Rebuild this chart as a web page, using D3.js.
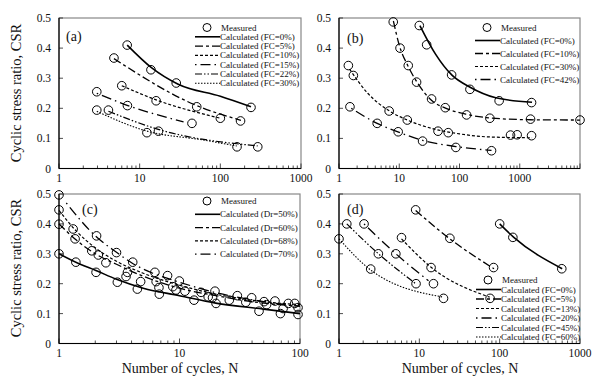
<!DOCTYPE html>
<html>
<head>
<meta charset="utf-8">
<script src="https://cdn.jsdelivr.net/npm/d3@7"></script>
<style>
  body { margin: 0; background: #fff; }
  text { font-family: "Liberation Serif", "DejaVu Serif", serif; fill: #111; }
</style>
</head>
<body>
<div id="viz"></div>
<script>
/***************** Data (N, CSR) *****************************************/
// panel (a)
var measA = [[7,0.41],[13.8,0.328],[28.4,0.284],[240,0.203],
             [4.8,0.367],[51,0.205],[178,0.158],
             [6,0.275],[16,0.225],[100,0.167],
             [2.94,0.255],[7.05,0.209],[44.5,0.15],
             [4.1,0.194],[17.1,0.124],[291,0.072],
             [2.94,0.194],[12.3,0.119],[161,0.072]];
var calcA_0  = [[7,0.41],[14,0.335],[30,0.28],[100,0.24],[240,0.205]];
var calcA_5  = [[4.8,0.365],[50,0.21],[180,0.16]];
var calcA_10 = [[6,0.275],[16,0.228],[100,0.167]];
var calcA_15 = [[2.94,0.25],[7,0.21],[35,0.155]];
var calcA_22 = [[4.1,0.19],[17,0.13],[290,0.075]];
var calcA_30 = [[2.94,0.19],[12,0.125],[60,0.095],[160,0.075]];
var labelsA = ["Calculated (FC=0%)","Calculated (FC=5%)","Calculated (FC=10%)",
               "Calculated (FC=15%)","Calculated (FC=22%)","Calculated (FC=30%)"];

// panel (b)
var measB = [[21.5,0.475],[28.5,0.411],[74,0.311],[149,0.263],[455,0.225],[1570,0.219],
             [7.95,0.487],[10.3,0.40],[14.1,0.342],[19.4,0.287],[34.4,0.231],[58,0.202],
             [131,0.178],[319,0.167],[1510,0.164],[10000,0.161],
             [1.43,0.342],[1.73,0.309],[6.8,0.191],[13.6,0.161],[44,0.124],[65,0.119],
             [703,0.111],[906,0.112],[1570,0.109],
             [1.52,0.205],[4.3,0.15],[9.6,0.122],[24.4,0.091],[87,0.07],[340,0.059]];
var calcB_0  = [[22,0.475],[40,0.38],[75,0.31],[150,0.27],[400,0.235],[1600,0.22]];
var calcB_10 = [[8,0.49],[10,0.41],[14,0.34],[20,0.285],[35,0.225],[60,0.2],[130,0.18],
                [320,0.168],[1500,0.162],[10000,0.161]];
var calcB_30 = [[1.5,0.33],[3,0.25],[7,0.19],[14,0.16],[40,0.13],[100,0.115],[300,0.105],[1600,0.102]];
var calcB_42 = [[1.6,0.2],[4.3,0.15],[10,0.12],[25,0.093],[87,0.073],[340,0.06]];
var labelsB = ["Calculated (FC=0%)","Calculated (FC=10%)","Calculated (FC=30%)","Calculated (FC=42%)"];

// panel (c)
var measC = [[1,0.497],[1,0.447],[1,0.399],[1,0.30],[1.31,0.383],[1.36,0.35],[1.38,0.272],
             [1.87,0.31],[2.05,0.36],[2.12,0.296],[2.03,0.238],[2.45,0.27],[3,0.304],
             [3.05,0.205],[3.6,0.224],[3.7,0.238],[4.09,0.272],[4.76,0.207],[4.47,0.182],
             [6.25,0.238],[6.4,0.207],[6.75,0.187],[6.8,0.165],[7.96,0.227],[8.8,0.19],
             [9.35,0.179],[9.97,0.209],[11.1,0.175],[13.2,0.145],[15.1,0.171],[17.3,0.156],
             [19.7,0.175],[20.1,0.134],[18.8,0.153],[25.9,0.145],[30.2,0.16],[35.5,0.138],
             [39.7,0.153],[45.7,0.108],[50.3,0.14],[52.8,0.13],[62,0.142],[68.8,0.1],
             [72.4,0.117],[80,0.134],[90.5,0.134],[96.3,0.12],[96.3,0.097]];
var calcC_50 = [[1,0.3],[1.5,0.265],[2,0.245],[3,0.215],[5,0.185],[10,0.16],[20,0.135],[50,0.115],[100,0.1]];
var calcC_60 = [[1,0.4],[1.4,0.345],[2,0.3],[3,0.265],[5,0.225],[10,0.185],[20,0.16],[50,0.135],[100,0.125]];
var calcC_68 = [[1,0.445],[1.4,0.375],[2,0.32],[3,0.275],[5,0.235],[10,0.195],[20,0.165],[50,0.14],[100,0.13]];
var calcC_70 = [[1.15,0.47],[2,0.36],[3,0.305],[4,0.27],[6,0.235],[10,0.205],[20,0.17],[50,0.14],[100,0.125]];
var labelsC = ["Calculated (Dr=50%)","Calculated (Dr=60%)","Calculated (Dr=68%)","Calculated (Dr=70%)"];

// panel (d)
var measD = [[100,0.4],[146,0.355],[593,0.25],
             [9,0.447],[24,0.352],[84,0.254],
             [6,0.354],[14,0.254],[76,0.151],
             [2.05,0.4],[5.1,0.3],[15,0.2],
             [1.25,0.4],[3.09,0.3],[9.1,0.2],
             [1,0.35],[2.48,0.249],[20,0.151]];
var calcD_0  = [[100,0.4],[150,0.355],[600,0.25]];
var calcD_5  = [[9,0.445],[24,0.35],[85,0.25]];
var calcD_13 = [[6,0.35],[14,0.255],[75,0.155]];
var calcD_20 = [[2.05,0.4],[5.1,0.3],[13,0.21]];
var calcD_45 = [[1.25,0.4],[3.1,0.3],[9,0.2]];
var calcD_60 = [[1,0.35],[2.5,0.245],[20,0.155]];
var labelsD = ["Calculated (FC=0%)","Calculated (FC=5%)","Calculated (FC=13%)",
               "Calculated (FC=20%)","Calculated (FC=45%)","Calculated (FC=60%)"];

var yTicks = [0, 0.1, 0.2, 0.3, 0.4, 0.5];

/***************** Line styles *********************/
var solid = {dash: null, w: 1.6},
    dashDot = {dash: "8,3,3,3", w: 1.3},
    shortDash = {dash: "3,2", w: 1.2},
    dotLong = {dash: "1.5,4,10,4", w: 1.3},
    dashDotDot = {dash: "7,2,1.5,2,1.5,2", w: 1.2},
    dotted = {dash: "1.5,1.5", w: 1.1};

var w = 606, h = 378;

var svg = d3.select("#viz")
        .append("svg")
        .attr("width", w)
        .attr("height", h);

var drawPanel = function(p) {
  var x = d3.scaleLog().domain(p.xd).range([p.x0, p.x1]);
  var y = d3.scaleLinear().domain([0, 0.5]).range([p.y1, p.y0]);
  var g = svg.append("g");

  /* frame */
  g.append("rect")
    .attr("x", p.x0).attr("y", p.y0)
    .attr("width", p.x1 - p.x0).attr("height", p.y1 - p.y0)
    .attr("fill", "none").attr("stroke", "#888").attr("stroke-width", 1.2);

  /* x ticks, inward */
  var minor = [];
  for (var e = Math.log10(p.xd[0]); e < Math.log10(p.xd[1]); e++) {
    for (var k = 1; k < 10; k++) minor.push(k * Math.pow(10, e));
  }
  minor.push(p.xd[1]);
  g.selectAll(".xt").data(minor).enter().append("line")
    .attr("x1", function(d) { return x(d); })
    .attr("x2", function(d) { return x(d); })
    .attr("y1", p.y1)
    .attr("y2", function(d) { return Math.abs(Math.log10(d) % 1) < 1e-6 ? p.y1 - 5 : p.y1 - 3; })
    .attr("stroke", "#222").attr("stroke-width", 0.8);
  g.selectAll(".xl").data(p.xlabels).enter().append("text")
    .attr("x", function(d) { return x(d); })
    .attr("y", p.y1 + 13.5)
    .attr("text-anchor", "middle")
    .style("font-size", "11.5px")
    .text(function(d) { return d; });

  /* y ticks */
  g.selectAll(".yt").data(yTicks).enter().append("line")
    .attr("x1", p.x0).attr("x2", p.x0 + 4)
    .attr("y1", function(d) { return y(d); })
    .attr("y2", function(d) { return y(d); })
    .attr("stroke", "#222").attr("stroke-width", 0.8);
  g.selectAll(".yl").data(yTicks).enter().append("text")
    .attr("x", p.x0 - 8)
    .attr("y", function(d) { return y(d) + 4; })
    .attr("text-anchor", "end")
    .style("font-size", "11.5px")
    .text(function(d) { return d === 0 ? "0" : d3.format(".1f")(d); });

  /* axes */
  g.append("line").attr("x1", p.x0).attr("x2", p.x1).attr("y1", p.y1).attr("y2", p.y1)
    .attr("stroke", "#000").attr("stroke-width", 1.2);
  g.append("line").attr("x1", p.x0).attr("x2", p.x0).attr("y1", p.y0).attr("y2", p.y1)
    .attr("stroke", "#000").attr("stroke-width", 1.2);

  /* calculated curves */
  var line = d3.line()
    .x(function(d) { return x(d[0]); })
    .y(function(d) { return y(d[1]); })
    .curve(d3.curveMonotoneX);
  p.calc.forEach(function(c) {
    g.append("path")
      .datum(c.data)
      .attr("d", line)
      .attr("fill", "none")
      .attr("stroke", "#000")
      .attr("stroke-width", c.style.w)
      .attr("stroke-dasharray", c.style.dash);
  });

  /* measured */
  g.selectAll(".m").data(p.meas).enter().append("circle")
    .attr("cx", function(d) { return x(d[0]); })
    .attr("cy", function(d) { return y(d[1]); })
    .attr("r", 4.3)
    .attr("fill", "none")
    .attr("stroke", "#000")
    .attr("stroke-width", 1);

  /* panel label */
  g.append("text")
    .attr("x", p.lab[0]).attr("y", p.lab[1])
    .style("font-size", "14px")
    .text(p.name);

  /* legend */
  var lg = p.legend;
  g.append("circle")
    .attr("cx", lg.x + 12).attr("cy", lg.y)
    .attr("r", 4).attr("fill", "none").attr("stroke", "#000");
  g.append("text")
    .attr("x", lg.x + 26).attr("y", lg.y + 3)
    .style("font-size", "9px")
    .text("Measured");
  p.calc.forEach(function(c, i) {
    var yy = lg.y + lg.dy * (i + 1);
    g.append("line")
      .attr("x1", lg.x).attr("x2", lg.x + 25)
      .attr("y1", yy).attr("y2", yy)
      .attr("stroke", "#000")
      .attr("stroke-width", c.style.w)
      .attr("stroke-dasharray", c.style.dash);
    g.append("text")
      .attr("x", lg.x + 25).attr("y", yy + 3)
      .style("font-size", "9px")
      .text(c.label);
  });
};

var styleA = [solid, dashDot, shortDash, dotLong, dashDotDot, dotted];
drawPanel({
  name: "(a)", x0: 59, x1: 301, y0: 18, y1: 168.5, xd: [1, 1000],
  xlabels: [1, 10, 100, 1000], lab: [66, 41],
  meas: measA,
  calc: [calcA_0, calcA_5, calcA_10, calcA_15, calcA_22, calcA_30].map(function(d, i) {
    return {data: d, style: styleA[i], label: labelsA[i]};
  }),
  legend: {x: 195, y: 27.5, dy: 9.3}
});

var styleB = [solid, dashDot, shortDash, dotLong];
drawPanel({
  name: "(b)", x0: 339, x1: 580, y0: 18, y1: 168.5, xd: [1, 10000],
  xlabels: [1, 10, 100, 1000], lab: [347, 43],
  meas: measB,
  calc: [calcB_0, calcB_10, calcB_30, calcB_42].map(function(d, i) {
    return {data: d, style: styleB[i], label: labelsB[i]};
  }),
  legend: {x: 475, y: 27.5, dy: 13}
});

var styleC = [solid, dashDot, shortDash, dotLong];
drawPanel({
  name: "(c)", x0: 59, x1: 300, y0: 194, y1: 343.5, xd: [1, 100],
  xlabels: [1, 10, 100], lab: [82, 214],
  meas: measC,
  calc: [calcC_50, calcC_60, calcC_68, calcC_70].map(function(d, i) {
    return {data: d, style: styleC[i], label: labelsC[i]};
  }),
  legend: {x: 195, y: 201, dy: 13.3}
});

var styleD = [solid, dashDot, shortDash, dotLong, dashDotDot, dotted];
drawPanel({
  name: "(d)", x0: 339, x1: 580, y0: 194, y1: 343.5, xd: [1, 1000],
  xlabels: [1, 10, 100, 1000], lab: [347, 214],
  meas: measD,
  calc: [calcD_0, calcD_5, calcD_13, calcD_20, calcD_45, calcD_60].map(function(d, i) {
    return {data: d, style: styleD[i], label: labelsD[i]};
  }),
  legend: {x: 476, y: 280, dy: 9.5}
});

/* axis titles */
[93, 268].forEach(function(cy) {
  svg.append("text")
    .attr("transform", "translate(21," + cy + ") rotate(-90)")
    .attr("text-anchor", "middle")
    .style("font-size", "14.5px")
    .text("Cyclic stress ratio, CSR");
});
[180, 460].forEach(function(cx) {
  svg.append("text")
    .attr("x", cx).attr("y", 373)
    .attr("text-anchor", "middle")
    .style("font-size", "14px")
    .text("Number of cycles, N");
});
</script>
</body>
</html>
